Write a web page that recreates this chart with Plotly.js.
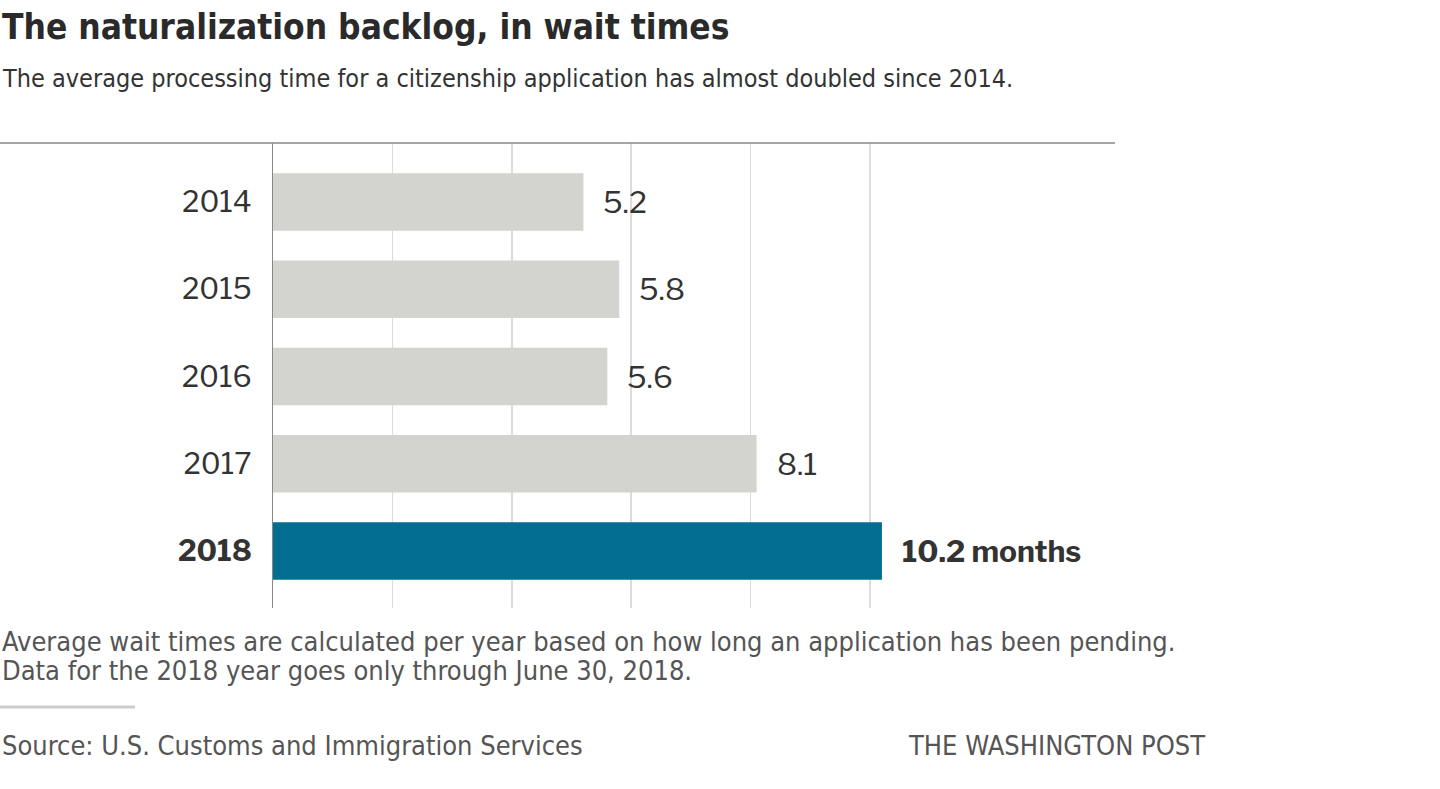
<!DOCTYPE html>
<html>
<head>
<meta charset="utf-8">
<script src="https://cdn.plot.ly/plotly-3.0.1.min.js"></script>
<style>
html,body{margin:0;padding:0;background:#fff;}
#chart{width:1440px;height:789px;}
</style>
</head>
<body>
<div id="chart"></div>
<script>
// ---- data ----
var years = ["2014", "2015", "2016", "2017", "2018"];
var waitMonths = [5.2, 5.8, 5.6, 8.1, 10.2];
var valueLabels = ["5.2", "5.8", "5.6", "8.1", "<b>10.2 months</b>"];
var yearTickText = ["2014", "2015", "2016", "2017", "<b>2018</b>"];
var gridVals = [2, 4, 6, 8, 10];

// ---- layout helpers (pixel -> paper) ----
var W = 1440, H = 789;
var M = {l: 273, r: 325, t: 143, b: 181};
var PW = W - M.l - M.r, PH = H - M.t - M.b;
function px(x) { return (x - M.l) / PW; }
function py(y) { return (H - M.b - y) / PH; }

var narrow = '"Liberation Sans Narrow", "DejaVu Sans Condensed", "Roboto Condensed", sans-serif';
var regular = '"Libre Franklin", "Liberation Sans", Arial, sans-serif';

var barColors = years.map(function (y, i) { return i === years.length - 1 ? '#036e91' : '#d3d3cf'; });

var trace = {
  type: 'bar',
  orientation: 'h',
  x: waitMonths,
  y: years,
  marker: {color: barColors, line: {width: 0}},
  width: 0.66,
  hoverinfo: 'none'
};

var annotations = [];
for (var i = 0; i < years.length; i++) {
  annotations.push({
    x: waitMonths[i], y: i, xref: 'x', yref: 'y',
    text: valueLabels[i], showarrow: false,
    xanchor: 'left', yanchor: 'middle', xshift: 18,
    font: {family: regular, size: 30, color: '#333'}
  });
}

function txt(x, y, text, size, color, family, anchor) {
  return {
    x: px(x), y: py(y), xref: 'paper', yref: 'paper', text: text,
    showarrow: false, xanchor: anchor || 'left', yanchor: 'middle',
    font: {family: family || narrow, size: size, color: color}
  };
}

annotations.push(txt(0, 27, '<b>The naturalization backlog, in wait times</b>', 35, '#2a2a2a'));
annotations.push(txt(0, 79, 'The average processing time for a citizenship application has almost doubled since 2014.', 25, '#333'));
annotations.push(txt(0, 641, 'Average wait times are calculated per year based on how long an application has been pending.', 27, '#555'));
annotations.push(txt(0, 670, 'Data for the 2018 year goes only through June 30, 2018.', 27, '#555'));
annotations.push(txt(0, 745, 'Source: U.S. Customs and Immigration Services', 27, '#555'));
annotations.push(txt(906, 745, 'THE WASHINGTON POST', 27, '#555'));

var layout = {
  width: W, height: H,
  margin: M,
  paper_bgcolor: '#fff', plot_bgcolor: '#fff',
  showlegend: false,
  bargap: 0.34,
  xaxis: {
    range: [0, PW / 59.7],
    tickvals: gridVals,
    showticklabels: false,
    showgrid: true, gridcolor: '#dcdcdc', gridwidth: 1.5,
    zeroline: false, showline: false, ticks: '',
    fixedrange: true
  },
  yaxis: {
    type: 'category',
    categoryorder: 'array', categoryarray: years,
    range: [4.653, -0.676],
    tickvals: years, ticktext: yearTickText,
    tickfont: {family: regular, size: 29, color: '#333'},
    ticks: '', ticklabelstandoff: 14,
    showgrid: false, zeroline: false,
    showline: true, linecolor: '#888', linewidth: 1.5,
    fixedrange: true
  },
  shapes: [
    {type: 'line', xref: 'paper', yref: 'paper', x0: px(0), x1: px(1115), y0: 1, y1: 1,
     line: {color: '#888', width: 1.5}},
    {type: 'line', xref: 'paper', yref: 'paper', x0: px(0), x1: px(135), y0: py(707), y1: py(707),
     line: {color: '#ccc', width: 3}}
  ],
  annotations: annotations
};

Plotly.newPlot('chart', [trace], layout, {displayModeBar: false, staticPlot: true});
</script>
</body>
</html>
